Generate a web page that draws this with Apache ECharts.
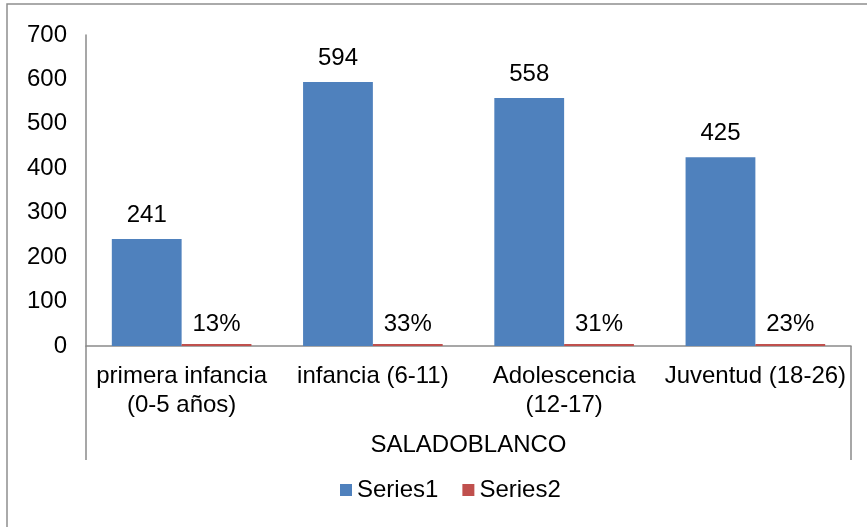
<!DOCTYPE html>
<html>
<head>
<meta charset="utf-8">
<script src="https://cdn.jsdelivr.net/npm/echarts@6/dist/echarts.min.js"></script>
<style>
  html, body { margin: 0; padding: 0; background: #fff; }
  #chart { width: 867px; height: 527px; }
</style>
</head>
<body>
<div id="chart"></div>
<script>
// Population by age group, Saladoblanco
const categories = ['primera infancia\n(0-5 años)', 'infancia (6-11)', 'Adolescencia\n(12-17)', 'Juventud (18-26)'];
const groupLabel = ['SALADOBLANCO'];
const series1 = [241, 594, 558, 425];
const series2 = [0.13, 0.33, 0.31, 0.23];
const yTicks = { min: 0, max: 700, interval: 100 };

const FONT = '"Liberation Sans", Arial, sans-serif';
const FS = 24;
const AXIS_GRAY = '#8a8a8a';

const chart = echarts.init(document.getElementById('chart'), null, { renderer: 'canvas' });

chart.setOption({
  animation: false,
  backgroundColor: '#ffffff',
  textStyle: { fontFamily: FONT, color: '#000' },
  grid: { left: 86, right: 16, top: 35, bottom: 181, containLabel: false },
  graphic: [{
    type: 'rect',
    shape: { x: 7, y: 4, width: 900, height: 560 },
    style: { fill: 'none', stroke: '#8e8e8e', lineWidth: 1.5 },
    silent: true
  }],
  legend: {
    bottom: 20,
    left: 335,
    icon: 'rect',
    itemWidth: 12,
    itemHeight: 12,
    itemGap: 24,
    textStyle: { fontFamily: FONT, fontSize: FS, color: '#000' },
    data: ['Series1', 'Series2']
  },
  xAxis: [{
    type: 'category',
    data: categories,
    axisLine: { show: true, lineStyle: { color: AXIS_GRAY, width: 1.5 } },
    axisTick: { show: false },
    axisLabel: {
      interval: 0,
      margin: 16,
      fontFamily: FONT,
      fontSize: FS,
      color: '#000',
      lineHeight: 29,
      align: 'center'
    }
  }, {
    type: 'category',
    data: groupLabel,
    position: 'bottom',
    axisLine: { show: false },
    axisTick: { show: true, length: 114, lineStyle: { color: AXIS_GRAY, width: 1.5 } },
    axisLabel: {
      margin: 87,
      fontFamily: FONT,
      fontSize: FS,
      color: '#000'
    }
  }],
  yAxis: {
    type: 'value',
    min: yTicks.min,
    max: yTicks.max,
    interval: yTicks.interval,
    axisLine: { show: true, lineStyle: { color: AXIS_GRAY, width: 1.5 } },
    axisTick: { show: false },
    splitLine: { show: false },
    axisLabel: { margin: 19, fontFamily: FONT, fontSize: FS, color: '#000' }
  },
  series: [{
    name: 'Series1',
    type: 'bar',
    data: series1,
    barGap: '0%',
    barCategoryGap: '27%',
    itemStyle: { color: '#4F81BD' },
    label: {
      show: true,
      position: 'top',
      distance: 12,
      fontFamily: FONT,
      fontSize: FS,
      color: '#000'
    }
  }, {
    name: 'Series2',
    type: 'bar',
    data: series2,
    barGap: '0%',
    barCategoryGap: '27%',
    barMinHeight: 2,
    itemStyle: { color: '#C0504D' },
    label: {
      show: true,
      position: 'top',
      distance: 8,
      fontFamily: FONT,
      fontSize: FS,
      color: '#000',
      formatter: p => Math.round(p.value * 100) + '%'
    }
  }]
});
</script>
</body>
</html>
